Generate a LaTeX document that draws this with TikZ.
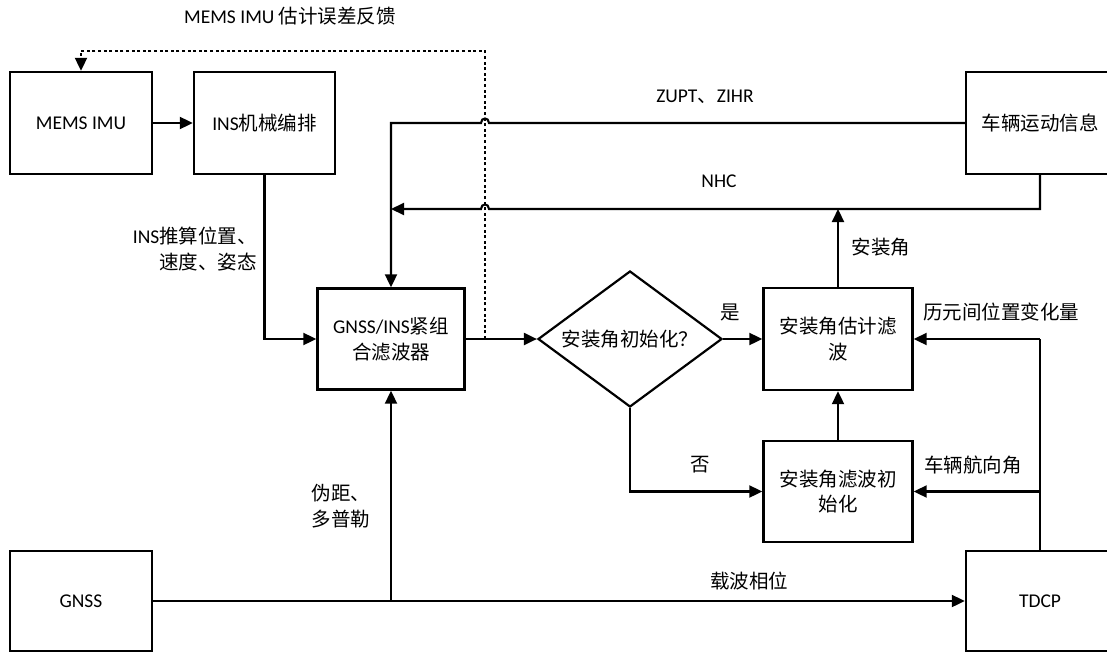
\documentclass[tikz,border=0pt]{standalone}
\usepackage{fontspec}
\setmainfont{Carlito}
\newfontfamily\cjk{Noto Sans CJK SC}
\usetikzlibrary{arrows.meta,shapes.geometric}
\begin{document}
\begin{tikzpicture}[x=1pt,y=-1pt,
  every node/.style={font=\fontsize{19.5}{25.5}\selectfont},
  box/.style={draw,line width=2.4pt,inner sep=0pt,align=center},
  conn/.style={line width=2.1pt},
  tip/.style={-{Triangle[length=13pt,width=12pt]}},
  arr/.style={conn,tip},
  lbl/.style={inner sep=0pt,align=center},
  fbk/.style={line width=2.1pt,dash pattern=on 3pt off 2.6pt}]
\useasboundingbox (0,0) rectangle (1107,653);

% boxes
\node[box,minimum width=142pt,minimum height=102pt] (imu) at (81,123) {MEMS IMU};
\node[box,minimum width=141pt,minimum height=102pt] (ins) at (264.5,123) {INS{\cjk 机械编排}};
\node[box,minimum width=148pt,minimum height=102pt] (car) at (1040,123) {\cjk 车辆运动信息};
\node[box,minimum width=147pt,minimum height=101pt] (gi) at (391,339) {GNSS/INS{\cjk 紧组}\\{\cjk 合滤波器}};
\node[draw,diamond,line width=2.2pt,inner sep=0pt,aspect=1.353,minimum width=184pt,minimum height=136pt] (dia) at (630,339) {\cjk 安装角初始化？};
\node[box,minimum width=149pt,minimum height=102pt] (est) at (838,339) {\cjk 安装角估计滤\\\cjk 波};
\node[box,minimum width=149pt,minimum height=101pt] (init) at (838,491.5) {\cjk 安装角滤波初\\\cjk 始化};
\node[box,minimum width=142pt,minimum height=100pt] (gnss) at (81,601) {GNSS};
\node[box,minimum width=148pt,minimum height=100pt] (tdcp) at (1040,601) {TDCP};

% helper coordinates
\coordinate (fb) at (485,339);
\coordinate (fbtop) at (485,51);
\coordinate (zc) at (391,123);
\coordinate (nhcc) at (1040,209);
\coordinate (nhce) at (391,209);
\coordinate (angt) at (838,209);
\coordinate (j1) at (1040,339);
\coordinate (j2) at (1040,491.5);
\coordinate (split) at (391,601);

% connectors
\draw[arr] (imu) -- (ins);
\draw[arr] (ins.south) |- (gi.west);
\draw[arr] (car.west) -- (489,123) .. controls (489,117) and (481,117) .. (481,123) -- (zc) -- (gi.north);
\draw[arr] (car.south) -- (nhcc) -- (489,209) .. controls (489,203) and (481,203) .. (481,209) -- (nhce);
\draw[arr] (est.north) -- (angt);
\draw[arr] (gi.east) -- (dia.west);
\draw[arr] (dia.east) -- (est.west);
\draw[arr] (dia.south) |- (init.west);
\draw[arr] (init.north) -- (est.south);
\draw[conn] (tdcp.north) -- (j1);
\draw[arr] (j1) -- (est.east);
\draw[arr] (j2) -- (init.east);
\draw[arr] (gnss.east) -- (tdcp.west);
\draw[arr] (split) -- (gi.south);
\draw[fbk,tip] (fb) -- (fbtop) -| (imu.north);

% labels
\node[lbl] (lfb) at (290,16) {MEMS IMU {\cjk 估计误差反馈}};
\node[lbl] (lz) at (705,97) {ZUPT{\cjk 、}ZIHR};
\node[lbl] (lnhc) at (719,181) {NHC};
\node[lbl,align=right,anchor=east] (lins) at (257,249) {INS{\cjk 推算位置、}\\{\cjk 速度、姿态}};
\node[lbl] (lang) at (881,247) {\cjk 安装角};
\node[lbl] (lyes) at (730,312) {\cjk 是};
\node[lbl] (ldp) at (1001,312) {\cjk 历元间位置变化量};
\node[lbl] (lhd) at (973,465) {\cjk 车辆航向角};
\node[lbl] (lno) at (700,465) {\cjk 否};
\node[lbl] (lpr) at (341,506) {\cjk 伪距、\\\cjk 多普勒};
\node[lbl] (lcp) at (749,581) {\cjk 载波相位};
\end{tikzpicture}
\end{document}
